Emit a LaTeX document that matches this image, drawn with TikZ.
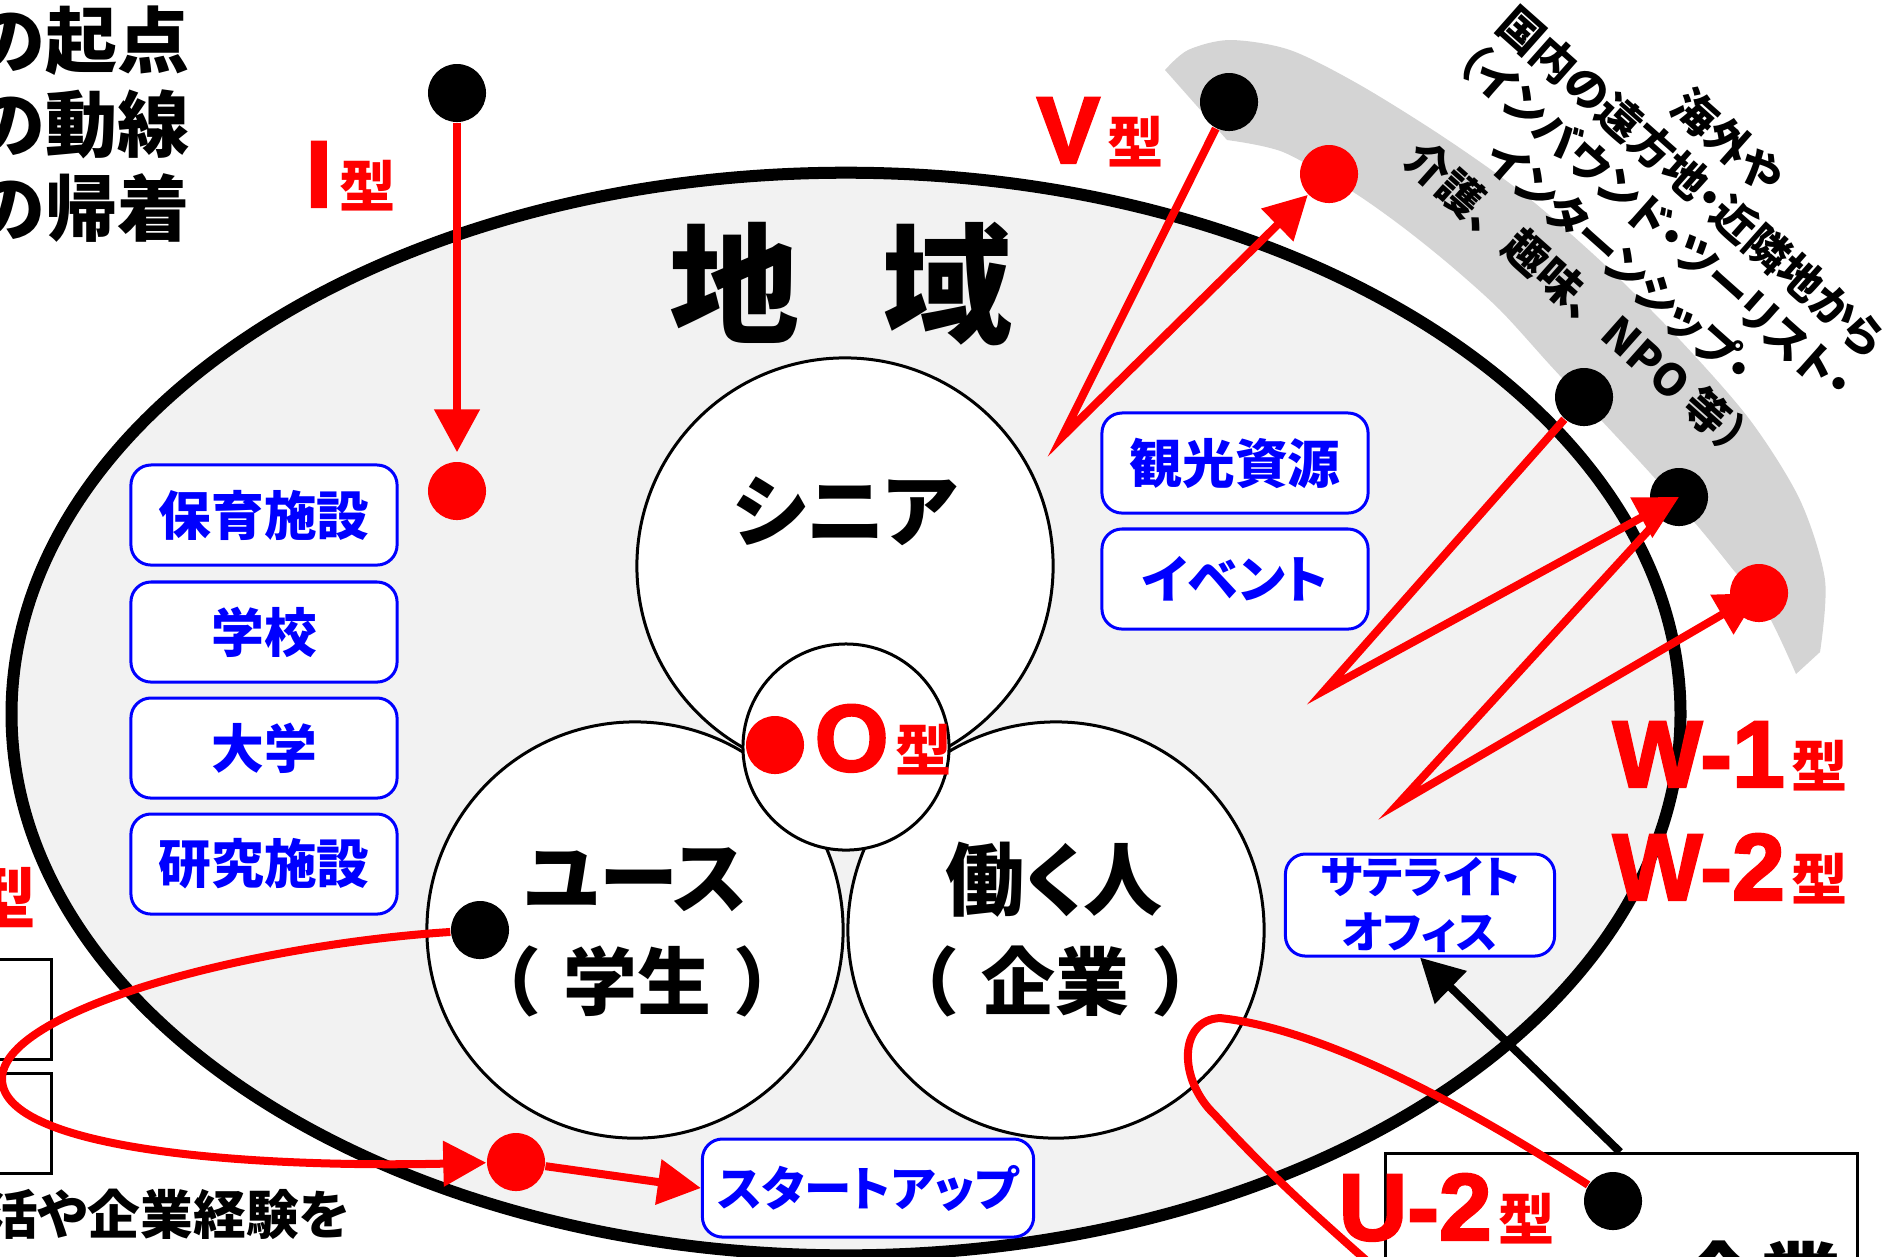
\documentclass[tikz,border=0pt]{standalone}
\usepackage{fontspec}
\setmainfont{Noto Sans CJK JP}[RawFeature=+palt]
\newfontfamily\jpn{Noto Sans CJK JP}
\newfontfamily\lat{Liberation Sans}[BoldFeatures={FakeBold=2.5}]
\usetikzlibrary{arrows.meta}
\definecolor{bgfill}{RGB}{242,242,242}
\definecolor{bandgray}{RGB}{212,212,212}
\newcommand{\typemark}[1]{{\lat\bfseries\fontsize{27}{27}\selectfont #1}\hspace{2pt}{\bfseries\fontsize{16}{16}\selectfont 型}}
\tikzset{
 dotb/.style={circle, fill=black, inner sep=0, minimum size=0.58cm},
 dotr/.style={circle, fill=red, inner sep=0, minimum size=0.58cm},
 bigc/.style={circle, draw=black, line width=0.03cm, fill=white, inner sep=0, minimum size=4.16cm},
 bbox/.style={draw=blue, line width=0.03cm, fill=white, rounded corners=0.2cm, minimum width=2.66cm, minimum height=1.0cm, inner sep=0, text=blue, font=\bfseries\fontsize{15}{18}\selectfont},
 redarr/.style={draw=red, line width=0.08cm, -{Triangle[length=0.43cm,width=0.44cm]}},
 redline/.style={draw=red, line width=0.08cm},
 typel/.style={text=red, inner sep=0, anchor=base west},
 cjklabel/.style={font=\bfseries\fontsize{22.5}{26}\selectfont, inner sep=0},
 cjkparen/.style={font=\jpn\bfseries\fontsize{21}{24}\selectfont, inner sep=0},
 thinbox/.style={draw=black, line width=0.03cm, fill=white, inner sep=0},
}
\begin{document}
\begin{tikzpicture}[x=0.01cm, y=-0.01cm]
\useasboundingbox (0,0) rectangle (1898,1256);
\clip (0,0) rectangle (1898,1256);
% outer gray band
\fill[bandgray] plot[smooth] coordinates {(1165,70) (1188,50) (1230,40) (1290,50) (1360,85) (1445,138) (1525,195) (1605,265) (1680,340) (1750,420) (1800,500) (1825,580) (1820,652)}
  -- plot[smooth] coordinates {(1796,674) (1767,613) (1731,567) (1695,523) (1641,463) (1601,420) (1550,365) (1500,310) (1450,265) (1400,225) (1350,190) (1283,152) (1227,140)} -- cycle;
% region ellipse
\draw[line width=0.12cm, fill=bgfill] (846,714) ellipse [x radius=8.34cm, y radius=5.41cm];
% partial boxes
\node[thinbox, minimum width=2cm, minimum height=1cm, anchor=east] (lbox1) at (53,1009) {};
\node[thinbox, minimum width=2cm, minimum height=1cm, anchor=east] (lbox2) at (53,1123) {};
\node[thinbox, minimum width=4.72cm, minimum height=2cm, anchor=north west] (kbox) at (1384,1152) {};
\node[anchor=north, inner sep=0, font=\bfseries\fontsize{23}{26}\selectfont] (kigyo) at (1760,1240) {企業};
% circles
\node[bigc] (senior) at (845,566) {};
\node[bigc] (youth) at (635,930) {};
\node[bigc] (worker) at (1056,930) {};
\node[circle, draw=black, line width=0.03cm, fill=white, minimum size=2.06cm, inner sep=0] (hub) at (846,747) {};
% blue boxes
\node[bbox] (hoiku) at (264,515) {保育施設};
\node[bbox] (gakko) at (264,632) {学校};
\node[bbox] (daigaku) at (264,748) {大学};
\node[bbox] (kenkyu) at (264,864) {研究施設};
\node[bbox] (kanko) at (1235,463) {観光資源};
\node[bbox, font=\bfseries\fontsize{14.5}{18}\selectfont] (event) at (1235,579) {イベント};
\node[bbox, minimum width=2.69cm, minimum height=1.02cm, font=\bfseries\fontsize{12.5}{15.5}\selectfont, align=center] (sat) at (1420,905) {サテライト\\オフィス};
\node[bbox, minimum width=3.31cm, minimum height=0.98cm, font=\bfseries\fontsize{13.5}{16}\selectfont] (startup) at (868,1188) {スタートアップ};
% texts
\node[anchor=east, inner sep=0, font=\bfseries\fontsize{20.5}{24}\selectfont] (tl1) at (190,41) {の起点};
\node[anchor=east, inner sep=0, font=\bfseries\fontsize{20.5}{24}\selectfont] (tl2) at (190,124) {の動線};
\node[anchor=east, inner sep=0, font=\bfseries\fontsize{20.5}{24}\selectfont] (tl3) at (190,208) {の帰着};
\node[anchor=east, inner sep=0, font=\bfseries\fontsize{15}{18}\selectfont] (btext) at (350,1214) {活や企業経験を};
\node[inner sep=0, font=\bfseries\fontsize{37}{40}\selectfont] (chiiki) at (841,284) {地\hspace{0.63em}域};
\node[cjklabel] (tSenior) at (845,511) {シニア};
\node[cjklabel] (tYouth) at (636,880) {ユース};
\node[cjkparen] (tYouth2) at (637,981) {（\hspace{0.3em}学生\hspace{0.3em}）};
\node[cjklabel] (tWork) at (1054,880) {働く人};
\node[cjkparen] (tWork2) at (1055,981) {（\hspace{0.3em}企業\hspace{0.3em}）};
\node[rotate=-41.6, align=center, inner sep=0, font=\bfseries\fontsize{12.5}{15.4}\selectfont] (far) at (1656,222) {海外や\\国内の遠方地・近隣地から\\（インバウンド・ツーリスト・\\インターンシップ・\\{\jpn 介護、趣味、NPO 等）}};
% dots
\node[dotb] (iS) at (457,93) {};
\node[dotr] (iE) at (457,491) {};
\node[dotb] (vS) at (1229,102) {};
\node[dotr] (vE) at (1329,174) {};
\node[dotb] (wA) at (1584,397) {};
\node[dotb] (wB) at (1679,497) {};
\node[dotr] (wC) at (1759,593) {};
\node[dotr] (oDot) at (775,745) {};
\node[dotb] (u1S) at (480,930) {};
\node[dotr] (u1M) at (516,1162) {};
\node[dotb] (u2S) at (1613,1201) {};
\coordinate (vP) at (1062,437);
\coordinate (wP1) at (1325,690);
\coordinate (wP2) at (1399,803);
\coordinate (kS) at (1620,1152);
% connectors
\draw[redarr, shorten >=0.09cm] (iS) -- (iE);
\draw[redarr] (vS) -- (vP) -- (vE);
\draw[redarr] (wA) -- (wP1) -- (wB.center);
\draw[redarr] (wB) -- (wP2) -- (wC.center);
\draw[redarr] (u1S) .. controls (250,945) and (0,1010) .. (2,1080) .. controls (5,1150) and (250,1168) .. (u1M);
\draw[redarr] (u1M) -- (startup.west);
\draw[redline] (u2S) .. controls (1480,1115) and (1330,1030) .. (1220,1018) .. controls (1178,1020) and (1178,1080) .. (1215,1115) .. controls (1270,1175) and (1320,1220) .. (1400,1290);
\draw[line width=0.08cm, -{Triangle[length=0.43cm,width=0.44cm]}] (kS) -- (sat.south);
% type labels
\node[typel] (lI) at (305,207) {\typemark{I}};
\node[typel] (lV) at (1036,163) {\typemark{V}};
\node[typel] (lO) at (814,771) {\typemark{O}};
\node[typel] (lW1) at (1612,787) {\typemark{W-1}};
\node[typel] (lW2) at (1612,900) {\typemark{W-2}};
\node[typel] (lU2) at (1338,1240) {\typemark{U-2}};
\node[text=red, anchor=east, inner sep=0, font=\bfseries\fontsize{19}{19}\selectfont] (lcut) at (37,898) {型};
\end{tikzpicture}
\end{document}
